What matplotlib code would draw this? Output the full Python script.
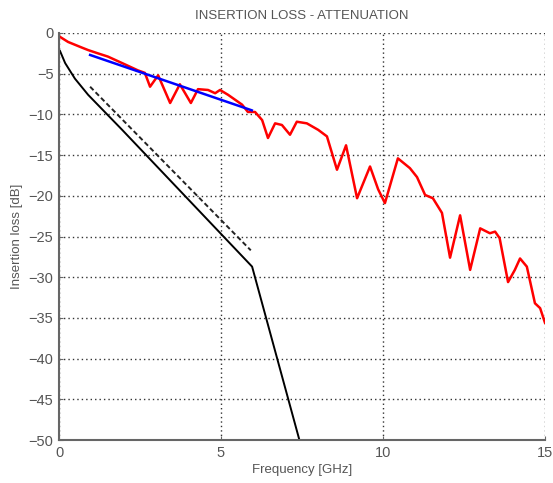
import matplotlib.pyplot as plt

plt.rcParams['font.family'] = ['Liberation Sans', 'DejaVu Sans']

# measured insertion loss (red)
meas_f = [0.0, 0.28, 0.71, 0.9, 1.2, 1.51, 1.95, 2.44, 2.65, 2.81, 3.06, 3.43, 3.73, 4.07,
          4.29, 4.6, 4.82, 4.97, 5.22, 5.65, 5.83, 6.05, 6.27, 6.45, 6.67, 6.88, 7.13, 7.34,
          7.65, 8.0, 8.27, 8.58, 8.86, 9.2, 9.6, 9.85, 10.06, 10.46, 10.83, 11.05, 11.3,
          11.54, 11.82, 12.07, 12.38, 12.69, 13.0, 13.3, 13.46, 13.6, 13.86, 14.07, 14.23,
          14.44, 14.69, 14.85, 15.0]
meas_db = [-0.4, -1.1, -1.8, -2.1, -2.5, -2.9, -3.7, -4.6, -4.9, -6.6, -5.2, -8.6, -6.3, -8.6,
           -6.9, -7.0, -7.4, -7.0, -7.6, -8.8, -9.7, -9.7, -10.7, -12.9, -11.1, -11.3, -12.5, -10.9,
           -11.1, -11.9, -12.7, -16.8, -13.8, -20.3, -16.4, -19.2, -20.9, -15.4, -16.6, -17.7, -19.9,
           -20.3, -22.1, -27.6, -22.4, -29.1, -24.0, -24.6, -24.4, -25.2, -30.6, -29.1, -27.7,
           -28.7, -33.2, -33.8, -35.6]

# linear fit (blue)
fit_f = [0.96, 5.95]
fit_db = [-2.7, -9.5]

# limit lines (black)
lim_f = [0.03, 0.19, 0.49, 0.9, 1.95, 5.96, 7.42]
lim_db = [-2.2, -3.7, -5.6, -7.6, -11.9, -28.7, -50.0]
lim2_f = [0.96, 5.92]
lim2_db = [-6.6, -26.7]

fig = plt.figure(figsize=(5.53, 4.83), dpi=100)
ax = fig.add_axes([0.1067, 0.089, 0.8788, 0.8427])

ax.plot(lim_f, lim_db, color='black', lw=1.4)
ax.plot(lim2_f, lim2_db, color='#222222', lw=1.4, ls=(0, (2.5, 1.5)))
ax.plot(meas_f, meas_db, color='red', lw=1.8)
ax.plot(fit_f, fit_db, color='blue', lw=1.8)

ax.set_xlim(0, 15)
ax.set_ylim(-50, 0)
ax.set_xticks([0, 5, 10, 15])
ax.set_yticks(range(-50, 1, 5))
ax.grid(True, color='#333333', ls=(0, (1, 2.2)), lw=1)

for s in ['top', 'right']:
    ax.spines[s].set_visible(False)
for s in ['left', 'bottom']:
    ax.spines[s].set_color('#666666')
    ax.spines[s].set_linewidth(1.5)

ax.tick_params(direction='in', length=3, color='#666666', labelcolor='#555555',
               labelsize=10.5, pad=4)
ax.set_xlabel('Frequency [GHz]', fontsize=9.5, color='#555555', labelpad=3)
ax.set_ylabel('Insertion loss [dB]', fontsize=9.5, color='#555555', labelpad=4)
ax.set_title('INSERTION LOSS - ATTENUATION', fontsize=9.5, color='#555555', pad=10)

fig.savefig('out.png', dpi=100)
